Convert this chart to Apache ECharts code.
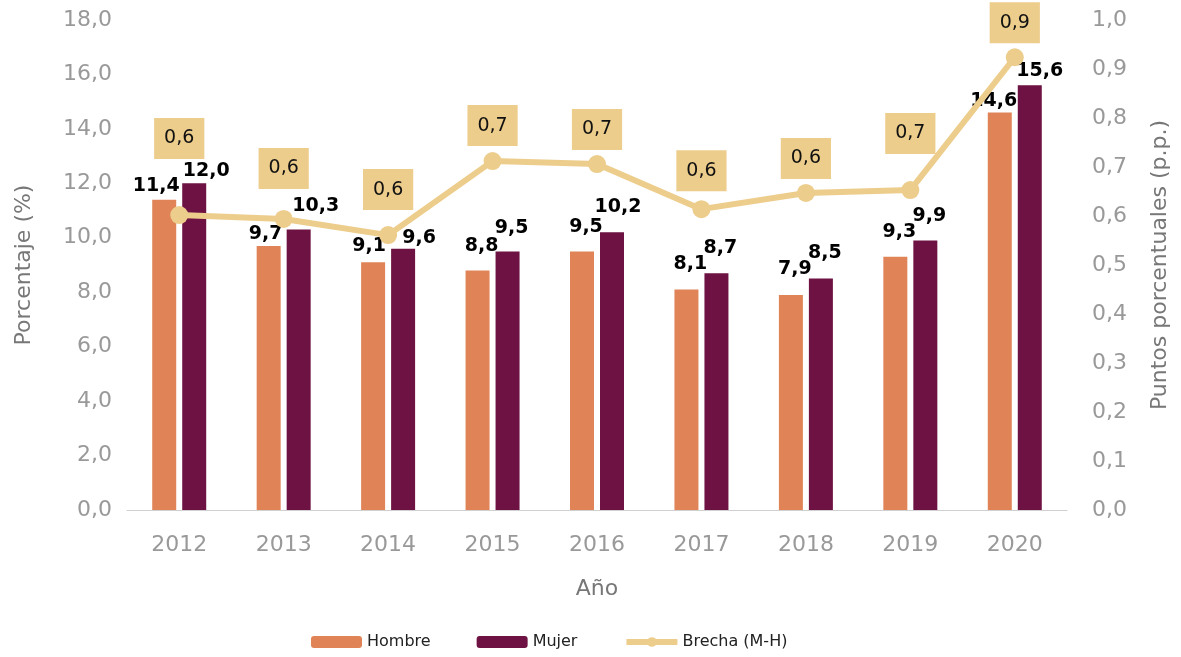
<!DOCTYPE html>
<html>
<head>
<meta charset="utf-8">
<script src="https://cdn.jsdelivr.net/npm/echarts@6/dist/echarts.min.js"></script>
<style>
  html, body { margin: 0; padding: 0; background: #fff; }
  #chart { width: 1181px; height: 657px; }
</style>
</head>
<body>
<div id="chart"></div>
<script>
const years = ['2012', '2013', '2014', '2015', '2016', '2017', '2018', '2019', '2020']
const hombre = [11.4, 9.7, 9.1, 8.8, 9.5, 8.1, 7.9, 9.3, 14.6]
const mujer = [12.0, 10.3, 9.6, 9.5, 10.2, 8.7, 8.5, 9.9, 15.6]
const brecha = [0.602, 0.594, 0.561, 0.712, 0.706, 0.614, 0.647, 0.653, 0.924]

// label nudges (px), hand-placed in the original
const hombreLabelShift = [[-12, 11], [-7, 13], [-8, 8], [0, 0], [0, 0], [0, -1], [0, -1], [0, 0], [-10, 13]]
const mujerLabelShift = [[8, 12], [13, 1], [12, 14], [0, 1], [2, -1], [0, -1], [0, -1], [0, 0], [6, 10]]
const brechaLabelLift = [42, 16, 11, 1, 0, 4, 0, 22, 0]

const font = "'DejaVu Sans', Verdana, sans-serif"
const comma = (v, d) => v.toFixed(d).replace('.', ',')

const chart = echarts.init(document.getElementById('chart'))

const barLabel = {
  show: true,
  position: 'top',
  distance: 15,
  color: '#000',
  fontFamily: font,
  fontWeight: 'bold',
  fontSize: 19,
  formatter: (p) => comma(p.value, 1),
}

const withShift = (values, shifts) =>
  values.map((v, i) => ({ value: v, label: { offset: [shifts[i][0] + 4, shifts[i][1]] } }))

const option = {
  animation: false,
  textStyle: { fontFamily: font },
  grid: { left: 127, right: 114, top: 20, bottom: 147 },
  legend: {
    bottom: 2,
    left: 306,
    itemWidth: 51,
    itemHeight: 12,
    itemGap: 46,
    textStyle: { fontFamily: font, fontSize: 16, color: '#222' },
    data: [
      'Hombre',
      'Mujer',
      { name: 'Brecha (M-H)', lineStyle: { width: 6 } },
    ],
  },
  xAxis: {
    type: 'category',
    data: years,
    name: 'Año',
    nameLocation: 'middle',
    nameGap: 68,
    nameTextStyle: { fontFamily: font, fontSize: 22, color: '#777' },
    axisLine: { lineStyle: { color: '#d0d0d0', width: 1 } },
    axisTick: { show: false },
    axisLabel: { margin: 24, fontSize: 22, color: '#999', fontFamily: font },
  },
  yAxis: [
    {
      type: 'value',
      min: 0,
      max: 18,
      interval: 2,
      name: 'Porcentaje (%)',
      nameLocation: 'middle',
      nameGap: 92,
      nameTextStyle: { fontFamily: font, fontSize: 22, color: '#777' },
      splitLine: { show: false },
      axisLine: { show: false },
      axisTick: { show: false },
      axisLabel: { margin: 15, fontSize: 22, color: '#999', fontFamily: font, formatter: (v) => comma(v, 1) },
    },
    {
      type: 'value',
      min: 0,
      max: 1,
      interval: 0.1,
      name: 'Puntos porcentuales (p.p.)',
      nameLocation: 'middle',
      nameGap: 82,
      nameTextStyle: { fontFamily: font, fontSize: 22, color: '#777' },
      splitLine: { show: false },
      axisLine: { show: false },
      axisTick: { show: false },
      axisLabel: { margin: 25, fontSize: 22, color: '#999', fontFamily: font, formatter: (v) => comma(v, 1) },
    },
  ],
  series: [
    {
      name: 'Hombre',
      type: 'bar',
      data: withShift(hombre, hombreLabelShift),
      barWidth: 24,
      barGap: '25%',
      itemStyle: { color: '#E08457' },
      label: barLabel,
    },
    {
      name: 'Mujer',
      type: 'bar',
      data: withShift(mujer, mujerLabelShift),
      barWidth: 24,
      itemStyle: { color: '#6D1242' },
      label: barLabel,
    },
    {
      name: 'Brecha (M-H)',
      type: 'line',
      yAxisIndex: 1,
      data: brecha.map((v, i) => ({ value: v, label: { offset: [0, -brechaLabelLift[i]] } })),
      symbol: 'circle',
      symbolSize: 18,
      lineStyle: { color: '#EDCD8C', width: 6 },
      itemStyle: { color: '#EDCD8C' },
      label: {
        show: true,
        position: 'top',
        distance: 5,
        backgroundColor: '#EDCD8C',
        padding: [11, 10],
        color: '#111',
        fontFamily: font,
        fontSize: 19,
        formatter: (p) => comma(p.value, 1),
      },
      z: 5,
    },
  ],
}

chart.setOption(option)
</script>
</body>
</html>
